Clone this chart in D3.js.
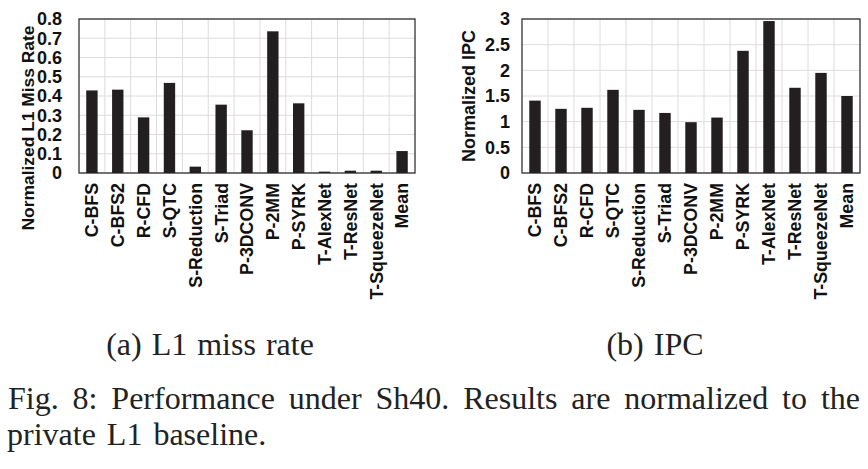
<!DOCTYPE html>
<html>
<head>
<meta charset="utf-8">
<script src="https://cdn.jsdelivr.net/npm/d3@7"></script>
<style>
body { margin: 0; background: #fff; }
svg { display: block; }
.tick text { font-family: "Liberation Sans", Arial, sans-serif; font-weight: bold; fill: #111; }
.ttl { font-family: "Liberation Sans", Arial, sans-serif; font-weight: bold; fill: #111; }
.cap { font-family: "Liberation Serif", "Times New Roman", serif; fill: #222; }
</style>
</head>
<body>
<div id="fig"></div>
<script>
// benchmark names (x axis)
const benchmarks = ["C-BFS", "C-BFS2", "R-CFD", "S-QTC", "S-Reduction", "S-Triad",
    "P-3DCONV", "P-2MM", "P-SYRK", "T-AlexNet", "T-ResNet", "T-SqueezeNet", "Mean"];

// (a) normalized L1 miss rate
const missRate = [0.429, 0.433, 0.289, 0.468, 0.033, 0.355, 0.222, 0.736, 0.362, 0.007, 0.012, 0.012, 0.114];
const missTicks = [0, 0.1, 0.2, 0.3, 0.4, 0.5, 0.6, 0.7, 0.8];

// (b) normalized IPC
const ipc = [1.41, 1.25, 1.27, 1.62, 1.23, 1.17, 0.99, 1.08, 2.38, 2.96, 1.66, 1.95, 1.50];
const ipcTicks = [0, 0.5, 1, 1.5, 2, 2.5, 3];

const W = 868, H = 469;

const svg = d3.select("#fig").append("svg")
    .attr("width", W)
    .attr("height", H);

function drawPanel(cfg) {
    var x = d3.scaleBand()
        .domain(benchmarks)
        .range([cfg.left, cfg.right])
        .paddingInner(0).paddingOuter(0);
    var y = d3.scaleLinear()
        .domain([0, cfg.max])
        .range([cfg.bottom, cfg.top]);

    var g = svg.append("g");

    // horizontal grid
    g.append("g")
        .selectAll("line")
        .data(cfg.ticks)
        .join("line")
        .attr("x1", cfg.left).attr("x2", cfg.right)
        .attr("y1", d => y(d)).attr("y2", d => y(d))
        .attr("stroke", "#dcdcdc").attr("stroke-width", 1);

    // vertical grid at band boundaries
    g.append("g")
        .selectAll("line")
        .data(benchmarks.slice(1))
        .join("line")
        .attr("x1", d => x(d)).attr("x2", d => x(d))
        .attr("y1", cfg.top).attr("y2", cfg.bottom)
        .attr("stroke", "#dcdcdc").attr("stroke-width", 1);

    // bars
    var bw = x.bandwidth() * 0.44;
    g.append("g")
        .selectAll("rect")
        .data(cfg.values)
        .join("rect")
        .attr("x", (d, i) => x(benchmarks[i]) + (x.bandwidth() - bw) / 2)
        .attr("y", d => y(d))
        .attr("width", bw)
        .attr("height", d => cfg.bottom - y(d))
        .attr("fill", "#231f20");

    // plot frame
    g.append("rect")
        .attr("x", cfg.left).attr("y", cfg.top)
        .attr("width", cfg.right - cfg.left)
        .attr("height", cfg.bottom - cfg.top)
        .attr("fill", "none")
        .attr("stroke", "#222").attr("stroke-width", 1.2);

    // y axis labels
    var yAxis = g.append("g")
        .attr("transform", "translate(" + cfg.left + ",0)")
        .call(d3.axisLeft(y).tickValues(cfg.ticks).tickSize(0).tickPadding(cfg.yPad)
            .tickFormat(d3.format("")));
    yAxis.select(".domain").remove();
    yAxis.selectAll("text").style("font-size", "18px");

    // x axis labels (rotated)
    var xAxis = g.append("g")
        .attr("transform", "translate(0," + cfg.bottom + ")")
        .call(d3.axisBottom(x).tickSize(0));
    xAxis.select(".domain").remove();
    xAxis.selectAll("text")
        .style("font-size", "17.8px")
        .attr("transform", "rotate(-90)")
        .attr("x", -10)
        .attr("y", 0)
        .attr("dy", "0.36em")
        .style("text-anchor", "end");

    // y title
    g.append("text")
        .attr("class", "ttl")
        .attr("transform", "translate(" + cfg.titleX + "," + cfg.titleY + ") rotate(-90)")
        .attr("text-anchor", "middle")
        .style("font-size", cfg.titleSize + "px")
        .text(cfg.title);

    // sub caption
    svg.append("text")
        .attr("class", "cap")
        .attr("x", cfg.capX).attr("y", 355)
        .attr("text-anchor", "middle")
        .style("font-size", "32px")
        .style("word-spacing", "2px")
        .text(cfg.caption);
}

drawPanel({
    left: 79, right: 415, top: 19, bottom: 173,
    max: 0.8, ticks: missTicks, values: missRate, yPad: 17,
    title: "Normalized L1 Miss Rate", titleX: 34, titleY: 128, titleSize: 17.4,
    caption: "(a) L1 miss rate", capX: 210
});

drawPanel({
    left: 522, right: 860, top: 19, bottom: 173,
    max: 3, ticks: ipcTicks, values: ipc, yPad: 12,
    title: "Normalized IPC", titleX: 475, titleY: 96, titleSize: 18,
    caption: "(b) IPC", capX: 655
});

// figure caption, first line justified with word spacing
var line1 = svg.append("text")
    .attr("class", "cap")
    .attr("x", 8).attr("y", 409)
    .style("font-size", "32px")
    .text("Fig. 8: Performance under Sh40. Results are normalized to the");
var natural = line1.node().getComputedTextLength();
var gaps = line1.text().split(" ").length - 1;
line1.style("word-spacing", ((860 - 8 - natural) / gaps) + "px");

svg.append("text")
    .attr("class", "cap")
    .attr("x", 7).attr("y", 445)
    .style("font-size", "32px")
    .style("word-spacing", "3px")
    .text("private L1 baseline.");
</script>
</body>
</html>
